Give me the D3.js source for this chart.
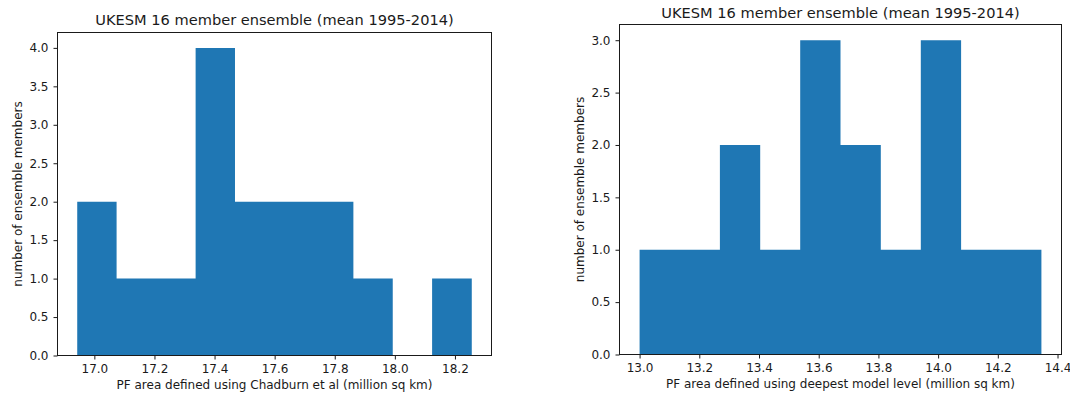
<!DOCTYPE html>
<html>
<head>
<meta charset="utf-8">
<script src="https://cdn.jsdelivr.net/npm/d3@7"></script>
<style>
  body { margin: 0; background: #fff; }
  svg text { font-family: "DejaVu Sans", sans-serif; fill: #1a1a1a; }
</style>
</head>
<body>
<div id="chart"></div>
<script>
var titleText = "UKESM 16 member ensemble (mean 1995-2014)";
var yLabelText = "number of ensemble members";

// left panel: Chadburn et al
var chadEdges = [16.943, 17.074, 17.205, 17.337, 17.468, 17.599, 17.730, 17.862, 17.993, 18.124, 18.256];
var chadCounts = [2, 1, 1, 4, 2, 2, 2, 1, 0, 1];
var chadXTicks = [17.0, 17.2, 17.4, 17.6, 17.8, 18.0, 18.2];
var chadYTicks = [0, 0.5, 1, 1.5, 2, 2.5, 3, 3.5, 4];

// right panel: deepest model level
var deepEdges = [13.000, 13.135, 13.269, 13.404, 13.538, 13.673, 13.808, 13.942, 14.077, 14.211, 14.346];
var deepCounts = [1, 1, 2, 1, 3, 2, 1, 3, 1, 1];
var deepXTicks = [13.0, 13.2, 13.4, 13.6, 13.8, 14.0, 14.2, 14.4];
var deepYTicks = [0, 0.5, 1, 1.5, 2, 2.5, 3];

var svg = d3.select("#chart").append("svg")
  .attr("width", 1070)
  .attr("height", 397);

function drawHist(opts) {
  var edges = opts.edges, counts = opts.counts;
  var lo = edges[0], hi = edges[edges.length - 1];
  var pad = (hi - lo) * 0.05;
  var maxC = d3.max(counts);

  var x = d3.scaleLinear().domain([lo - pad, hi + pad]).range([opts.left, opts.right]);
  var y = d3.scaleLinear().domain([0, maxC * 1.05]).range([opts.bottom, opts.top]);

  var g = svg.append("g");

  // one step-shaped area per histogram so adjacent bins have no seams
  var steps = edges.map(function (e, i) {
    return { x: e, n: i < counts.length ? counts[i] : counts[counts.length - 1] };
  });

  var area = d3.area()
    .curve(d3.curveStepAfter)
    .x(function (d) { return x(d.x); })
    .y0(y(0))
    .y1(function (d) { return y(d.n); });

  g.append("path")
    .datum(steps)
    .attr("class", "bars")
    .attr("d", area)
    .style("fill", "#1f77b4");

  var xAxis = g.append("g")
    .attr("transform", "translate(0," + opts.bottom + ")")
    .call(d3.axisBottom(x).tickValues(opts.xTicks).tickFormat(d3.format(".1f")).tickSizeOuter(0).tickSize(4).tickPadding(5));
  var yAxis = g.append("g")
    .attr("transform", "translate(" + opts.left + ",0)")
    .call(d3.axisLeft(y).tickValues(opts.yTicks).tickFormat(d3.format(".1f")).tickSizeOuter(0).tickSize(4).tickPadding(5));

  [xAxis, yAxis].forEach(function (a) {
    a.select(".domain").remove();
    a.selectAll("text").style("font-size", "12px").style("font-family", "DejaVu Sans, sans-serif").attr("fill", "#1a1a1a");
    a.selectAll("line").attr("stroke", "#1a1a1a");
  });

  // frame
  g.append("rect")
    .attr("x", opts.left)
    .attr("y", opts.top)
    .attr("width", opts.right - opts.left)
    .attr("height", opts.bottom - opts.top)
    .style("fill", "none")
    .style("stroke", "#1a1a1a")
    .style("stroke-width", 1);

  var cx = (opts.left + opts.right) / 2;
  g.append("text")
    .attr("x", cx)
    .attr("y", opts.titleY)
    .attr("text-anchor", "middle")
    .style("font-size", "14.6px")
    .text(titleText);

  g.append("text")
    .attr("x", cx)
    .attr("y", opts.bottom + 33)
    .attr("text-anchor", "middle")
    .style("font-size", "12px")
    .text(opts.xLabel);

  g.append("text")
    .attr("transform", "translate(" + opts.yLabelX + "," + ((opts.top + opts.bottom) / 2) + ") rotate(-90)")
    .attr("text-anchor", "middle")
    .style("font-size", "12px")
    .text(yLabelText);
}

drawHist({
  edges: chadEdges, counts: chadCounts, xTicks: chadXTicks, yTicks: chadYTicks,
  left: 57.5, right: 491.5, top: 32.5, bottom: 355.5, titleY: 25, yLabelX: 22,
  xLabel: "PF area defined using Chadburn et al (million sq km)"
});

drawHist({
  edges: deepEdges, counts: deepCounts, xTicks: deepXTicks, yTicks: deepYTicks,
  left: 619.5, right: 1061.5, top: 24.5, bottom: 354.5, titleY: 18, yLabelX: 584,
  xLabel: "PF area defined using deepest model level (million sq km)"
});
</script>
</body>
</html>
